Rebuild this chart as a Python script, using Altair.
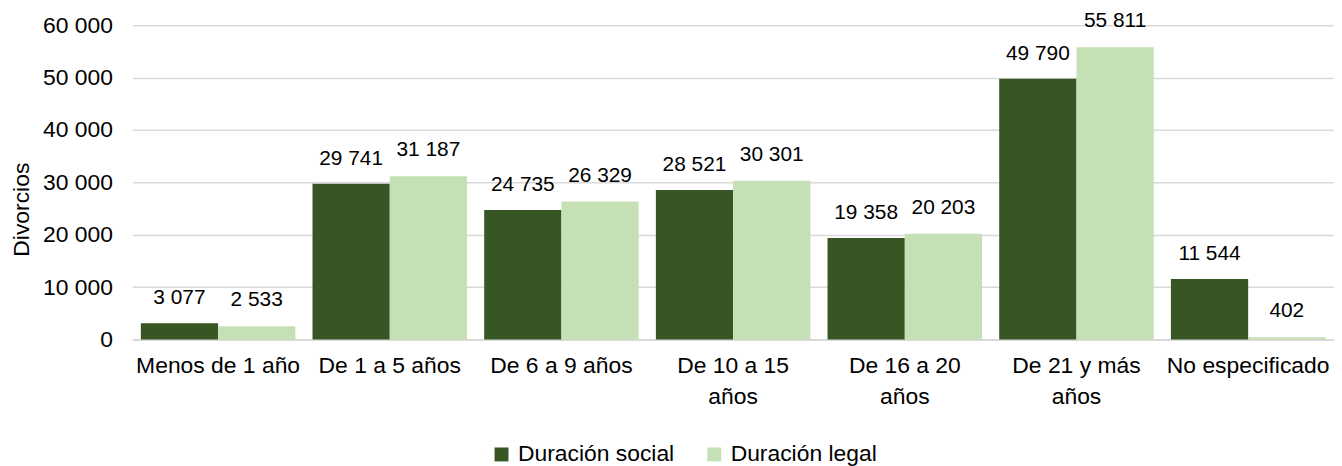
import altair as alt
import pandas as pd

# ---- data ----
categorias = ["Menos de 1 año", "De 1 a 5 años", "De 6 a 9 años", "De 10 a 15 años",
              "De 16 a 20 años", "De 21 y más años", "No especificado"]
duracion_social = [3077, 29741, 24735, 28521, 19358, 49790, 11544]
duracion_legal = [2533, 31187, 26329, 30301, 20203, 55811, 402]
series = ["Duración social", "Duración legal"]
colores = ["#375623", "#c5e0b4"]
y_ticks = [0, 10000, 20000, 30000, 40000, 50000, 60000]
titulo = "(2022)"

rows = []
for c, s, l in zip(categorias, duracion_social, duracion_legal):
    rows.append({"cat": c, "serie": series[0], "valor": s})
    rows.append({"cat": c, "serie": series[1], "valor": l})
df = pd.DataFrame(rows)

FONT = "Liberation Sans"

wrap_expr = ("length(datum.label) > 14 && indexof(datum.label, ' años') > 0 ? "
             "[substring(datum.label, 0, indexof(datum.label, ' años')), 'años'] : datum.label")

base = alt.Chart(df).encode(
    x=alt.X("cat:N", sort=categorias,
            scale=alt.Scale(paddingInner=0.1, paddingOuter=0.05),
            axis=alt.Axis(title=None, labelAngle=0, labelFontSize=23, labelFont=FONT,
                          labelColor="#000000", labelPadding=15, ticks=False,
                          domainColor="#d9d9d9", domainWidth=2, labelLineHeight=32,
                          labelExpr=wrap_expr, labelLimit=0)),
    xOffset=alt.XOffset("serie:N", sort=series,
                        scale=alt.Scale(paddingInner=0, paddingOuter=0)),
    y=alt.Y("valor:Q", scale=alt.Scale(domain=[0, 60000], nice=False),
            axis=alt.Axis(values=y_ticks, title="Divorcios", titleFont=FONT,
                          titleFontSize=23, titleFontWeight="normal", titleColor="#000000",
                          titleAngle=270, titleX=-111, titleY=185, titleAlign="center",
                          titleBaseline="middle",
                          labelFont=FONT, labelFontSize=23, labelColor="#000000",
                          labelPadding=20, ticks=False, domain=False,
                          gridColor="#d9d9d9", gridWidth=1.5,
                          labelExpr="replace(format(datum.value, ','), ',', ' ')")),
)

bars = base.mark_bar().encode(
    color=alt.Color("serie:N", sort=series,
                    scale=alt.Scale(domain=series, range=colores),
                    legend=alt.Legend(title=None, orient="none", legendX=360, legendY=420,
                                      direction="horizontal", symbolType="square",
                                      symbolSize=196, symbolStrokeWidth=0, symbolOpacity=1,
                                      labelFont=FONT, labelFontSize=23, labelColor="#000000",
                                      columnPadding=28, labelOffset=5, labelLimit=0))
)

etiqueta = "replace(format(datum.valor, ','), ',', ' ')"

text_social = base.transform_filter(alt.datum.serie == series[0]).transform_calculate(
    etiqueta=etiqueta
).mark_text(baseline="bottom", dy=-15, font=FONT, fontSize=21, color="#000000").encode(
    text="etiqueta:N")

text_legal = base.transform_filter(alt.datum.serie == series[1]).transform_calculate(
    etiqueta=etiqueta
).mark_text(baseline="bottom", dy=-16, font=FONT, fontSize=21, color="#000000").encode(
    text="etiqueta:N")

chart = alt.layer(bars, text_social, text_legal).properties(
    width=1209, height=316,
    title=alt.TitleParams(titulo, font=FONT, fontSize=23, fontWeight="normal",
                          color="#000000", anchor="middle", offset=14, dx=-75),
    autosize=alt.AutoSizeParams(type="none"),
    padding={"left": 125, "top": 16, "right": 0, "bottom": 133},
).configure_view(stroke=None)

chart.save("out.html", embed_options={"renderer": "svg", "actions": False})
